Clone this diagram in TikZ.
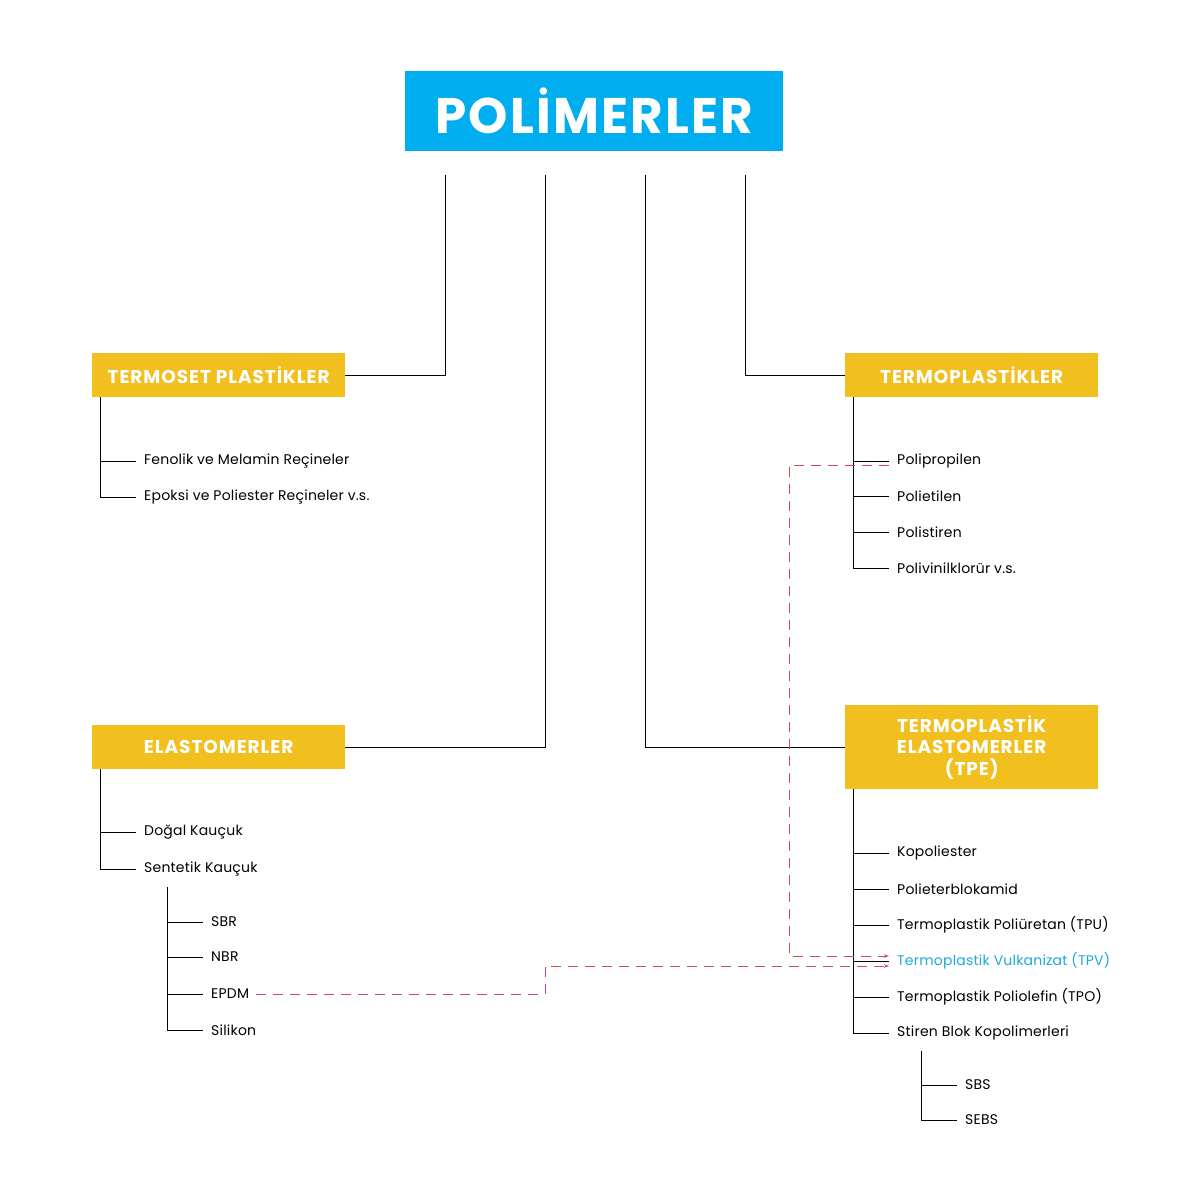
\documentclass[tikz,border=0pt]{standalone}
\usepackage{fontspec}
\setmainfont{Poppins}
\newfontfamily\titlefont[LetterSpace=4.5]{Poppins}
\newfontfamily\headfont[LetterSpace=5]{Poppins}
\newfontfamily\itemfont[LetterSpace=1.5]{Poppins}
\usetikzlibrary{arrows.meta}
\definecolor{polyblue}{RGB}{0,174,239}
\definecolor{polyyellow}{RGB}{242,192,30}
\definecolor{linkred}{RGB}{212,72,88}
\definecolor{tpvblue}{RGB}{30,170,220}
\begin{document}
\begin{tikzpicture}[x=1pt,y=-1pt,
  titlebox/.style={fill=polyblue, text=white, font=\titlefont\bfseries\fontsize{50}{52}\selectfont, minimum width=378pt, minimum height=80pt, inner sep=0pt, anchor=north west},
  catbox/.style={fill=polyyellow, text=white, font=\headfont\bfseries\fontsize{18.5}{21.5}\selectfont, minimum width=253pt, inner sep=0pt, anchor=north west, align=center},
  item/.style={anchor=west, inner sep=0pt, font=\itemfont\fontsize{14}{16}\selectfont},
  tree/.style={draw=black, line width=0.8pt},
  link/.style={draw=linkred, line width=1pt, dash pattern=on 10pt off 7pt},
  linkarrow/.style={-{Stealth[length=5pt,width=3.5pt]}}
]
\fill[white] (0,0) rectangle (1200,1200);
\path[use as bounding box] (0,0) rectangle (1200,1200);

% title
\node[titlebox] (title) at (405,71) {POLİMERLER};

% category boxes
\node[catbox, minimum height=44pt] (tset) at (92,353) {TERMOSET PLASTİKLER};
\node[catbox, minimum height=44pt] (tpl) at (845,353) {TERMOPLASTİKLER};
\node[catbox, minimum height=44pt] (elast) at (92,725) {ELASTOMERLER};
\node[catbox, minimum height=84pt] (tpe) at (845,705) {TERMOPLASTİK\\ELASTOMERLER\\(TPE)};

% title connectors
\coordinate (s1) at (445,175);
\coordinate (s2) at (545,175);
\coordinate (s3) at (645,175);
\coordinate (s4) at (745,175);
\draw[tree] (s1) |- (tset.east);
\draw[tree] (s2) |- (elast.east);
\draw[tree] (s3) |- (tpe.west);
\draw[tree] (s4) |- (tpl.west);

% termoset items
\node[item] (fen) at (144,461) {Fenolik ve Melamin Reçineler};
\node[item] (epo) at (144,497) {Epoksi ve Poliester Reçineler v.s.};
\foreach \n in {fen,epo}
  \draw[tree] ([xshift=8pt]tset.south west) |- ([xshift=-8pt]\n.west);

% termoplastik items
\node[item] (pp) at (897,461) {Polipropilen};
\node[item] (pe) at (897,496) {Polietilen};
\node[item] (ps) at (897,532) {Polistiren};
\node[item] (pvc) at (897,568) {Polivinilklorür v.s.};
\foreach \n in {pp,pe,ps,pvc}
  \draw[tree] ([xshift=8pt]tpl.south west) |- ([xshift=-8pt]\n.west);

% elastomer items
\node[item] (dog) at (144,832) {Doğal Kauçuk};
\node[item] (sen) at (144,869) {Sentetik Kauçuk};
\foreach \n in {dog,sen}
  \draw[tree] ([xshift=8pt]elast.south west) |- ([xshift=-8pt]\n.west);

\coordinate (senspine) at (167,887);
\node[item] (sbr) at (211,922) {SBR};
\node[item] (nbr) at (211,957) {NBR};
\node[item] (epdm) at (211,994) {EPDM};
\node[item] (sil) at (211,1030) {Silikon};
\foreach \n in {sbr,nbr,epdm,sil}
  \draw[tree] (senspine) |- ([xshift=-8pt]\n.west);

% TPE items
\node[item] (kop) at (897,853) {Kopoliester};
\node[item] (peb) at (897,889) {Polieterblokamid};
\node[item] (tpu) at (897,925) {Termoplastik Poliüretan (TPU)};
\node[item, text=tpvblue] (tpv) at (897,961) {Termoplastik Vulkanizat (TPV)};
\node[item] (tpo) at (897,997) {Termoplastik Poliolefin (TPO)};
\node[item] (sbk) at (897,1033) {Stiren Blok Kopolimerleri};
\foreach \n in {kop,peb,tpu,tpv,tpo,sbk}
  \draw[tree] ([xshift=8pt]tpe.south west) |- ([xshift=-8pt]\n.west);

\coordinate (sbkspine) at (921,1051);
\node[item] (sbs) at (965,1085) {SBS};
\node[item] (sebs) at (965,1120) {SEBS};
\foreach \n in {sbs,sebs}
  \draw[tree] (sbkspine) |- ([xshift=-8pt]\n.west);

% red dashed links
\coordinate (c1) at (789,956);
\coordinate (c2) at (545,966);
\draw[link, linkarrow] ([xshift=-8pt,yshift=-4pt]pp.west) -| (c1) -- ([xshift=-8pt,yshift=5pt]tpv.west);
\draw[link, linkarrow] ([xshift=7pt]epdm.east) -| (c2) -- ([xshift=-8pt,yshift=-5pt]tpv.west);
\end{tikzpicture}
\end{document}
